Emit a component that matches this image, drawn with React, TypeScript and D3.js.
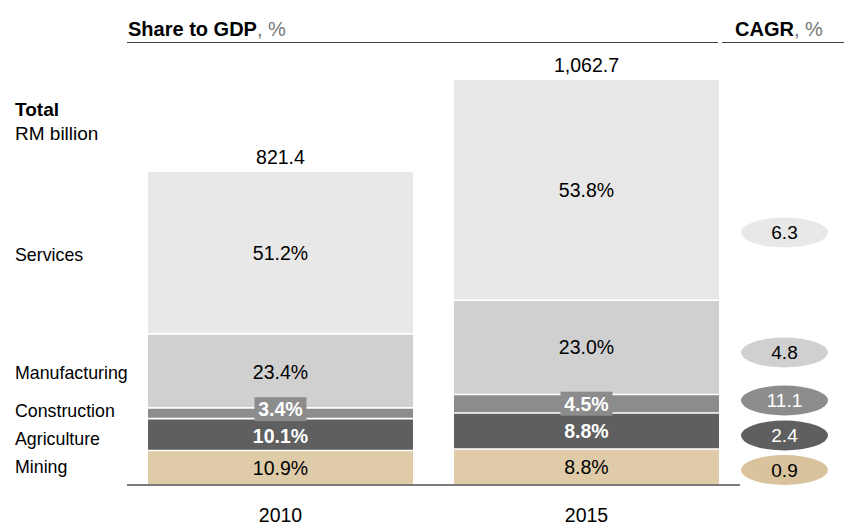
import React from "react";
import * as d3 from "d3";

const years = ["2010", "2015"];
const totals = [821.4, 1062.7];
const totalLabels = ["821.4", "1,062.7"];
const sectors = ["Mining", "Agriculture", "Construction", "Manufacturing", "Services"];
const share2010 = [10.9, 10.1, 3.4, 23.4, 51.2];
const share2015 = [8.8, 8.8, 4.5, 23.0, 53.8];
const cagr = [0.9, 2.4, 11.1, 4.8, 6.3];

// styles / layout
const W = 844;
const H = 526;
const FONT = "'Liberation Sans', Arial, Helvetica, sans-serif";
const fills = ["#dfcba8", "#5f5f5f", "#8c8c8c", "#d0d0d0", "#e8e8e8"];
const ellipseFills = ["#d9c39d", "#5f5f5f", "#8c8c8c", "#d0d0d0", "#e8e8e8"];
const textColors = ["#000", "#fff", "#fff", "#000", "#000"];
const boldLabel = [false, true, true, false, false];
const cagrY = [470, 435.5, 400.5, 352.5, 232.5];
const leftLabelNudge = [-1, 4, -2, 2, 2];
const valueNudge2010 = [0, 2, -4, 1, 0];
const valueNudge2015 = [0, 0, 0, 0, 0];

export default function App() {
  const baseY = 485;
  const y = d3.scaleLinear().domain([0, d3.max(totals) as number]).range([baseY, 80]);
  const x = d3.scaleBand<string>().domain(years).range([148, 719]).paddingInner(0.134).paddingOuter(0);
  const shares = [share2010, share2015];
  const nudges = [valueNudge2010, valueNudge2015];

  const stacks = years.map((yr, i) => {
    const s = shares[i];
    const sum = d3.sum(s);
    let acc = 0;
    return s.map((v, k) => {
      const val = (totals[i] * v) / sum;
      const seg = { k, v, y0: acc, y1: acc + val };
      acc += val;
      return seg;
    });
  });

  const bw = x.bandwidth();

  return (
    <svg width={W} height={H} style={{ position: "absolute", left: 0, top: 0, background: "#fff" }} fontFamily={FONT}>
      {/* headers */}
      <text x={128} y={36} fontSize={20} fill="#000">
        <tspan fontWeight="bold">Share to GDP</tspan>
        <tspan fill="#777">, %</tspan>
      </text>
      <line x1={127} x2={718} y1={42.5} y2={42.5} stroke="#444" strokeWidth={1} />
      <text x={735} y={36} fontSize={20} fill="#000">
        <tspan fontWeight="bold">CAGR</tspan>
        <tspan fill="#777">, %</tspan>
      </text>
      <line x1={722} x2={844} y1={42.5} y2={42.5} stroke="#444" strokeWidth={1} />

      <text x={15} y={116} fontSize={19} fontWeight="bold">Total</text>
      <text x={15} y={140} fontSize={19}>RM billion</text>

      {/* category labels */}
      {sectors.map((s, k) => {
        const seg = stacks[0][k];
        const cy = y((seg.y0 + seg.y1) / 2) + leftLabelNudge[k];
        return (
          <text key={s} x={15} y={cy} dy="0.35em" fontSize={17.8}>{s}</text>
        );
      })}

      {/* bars */}
      {years.map((yr, i) => {
        const x0 = x(yr) as number;
        return (
          <g key={yr}>
            {stacks[i].map((seg) => (
              <rect key={seg.k} x={x0} width={bw} y={y(seg.y1)} height={y(seg.y0) - y(seg.y1)} fill={fills[seg.k]} />
            ))}
            {stacks[i].slice(1).map((seg) => (
              <line key={"sep" + seg.k} x1={x0} x2={x0 + bw} y1={y(seg.y0)} y2={y(seg.y0)} stroke="#fff" strokeWidth={1.6} />
            ))}
            {stacks[i].map((seg) => {
              const cy = y((seg.y0 + seg.y1) / 2) + nudges[i][seg.k];
              const label = seg.v.toFixed(1) + "%";
              const small = y(seg.y0) - y(seg.y1) < 20;
              return (
                <g key={"l" + seg.k}>
                  {small && (
                    <rect x={x0 + bw / 2 - 26} width={52} y={cy - 12} height={24} fill={fills[seg.k]} />
                  )}
                  <text x={x0 + bw / 2} y={cy} dy="0.35em" textAnchor="middle" fontSize={19.5}
                    fontWeight={boldLabel[seg.k] ? "bold" : "normal"} fill={textColors[seg.k]}>
                    {label}
                  </text>
                </g>
              );
            })}
            <text x={x0 + bw / 2} y={y(totals[i]) - 8} textAnchor="middle" fontSize={19.5}>{totalLabels[i]}</text>
            <text x={x0 + bw / 2} y={522} textAnchor="middle" fontSize={19.5}>{yr}</text>
          </g>
        );
      })}

      {/* baseline */}
      <line x1={127} x2={740} y1={baseY} y2={baseY} stroke="#7a7a7a" strokeWidth={2} />

      {/* CAGR ellipses */}
      {cagr.map((c, k) => (
        <g key={"c" + k}>
          <ellipse cx={784.5} cy={cagrY[k]} rx={43.5} ry={15} fill={ellipseFills[k]} />
          <text x={784.5} y={cagrY[k]} dy="0.35em" textAnchor="middle" fontSize={19} fill={textColors[k]}>
            {c.toFixed(1)}
          </text>
        </g>
      ))}
    </svg>
  );
}
